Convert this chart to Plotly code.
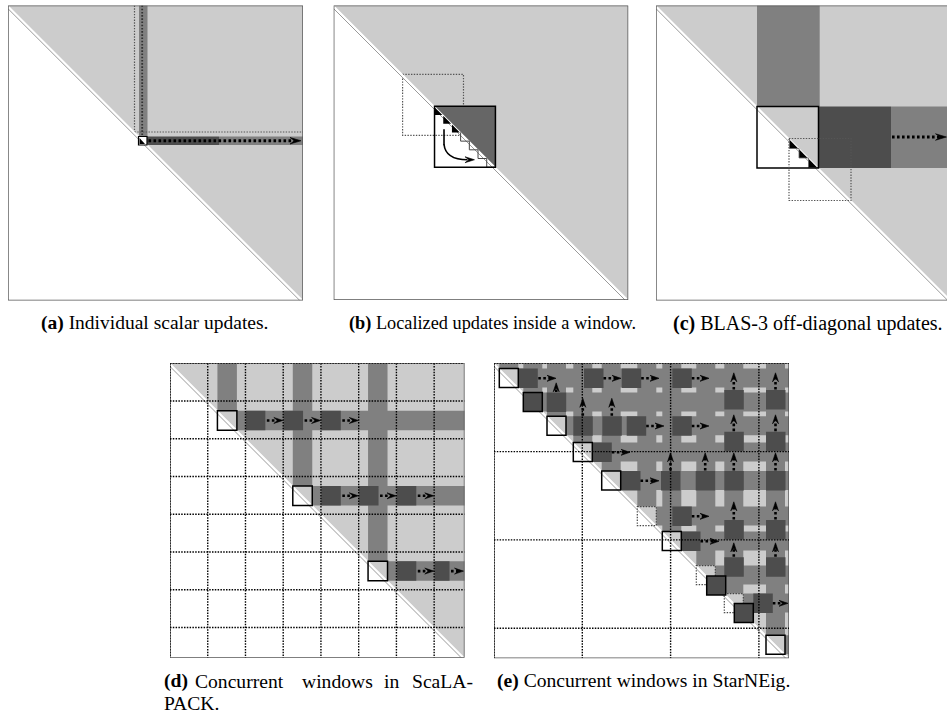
import plotly.graph_objects as go

W, H = 947, 715
N = 295.0  # drawing units of each matrix panel

LIGHT, MID, DARK, WDARK = '#cccccc', '#808080', '#4d4d4d', '#666666'
FONT = 'Liberation Serif'

# ---------------- data ----------------
# (a) individual scalar updates
a_k = 131.0
a_w = 8.5
a_done = 211.0
# (b) localized updates inside a window
b_win, b_size, b_prev = 101.0, 61.0, 69.0
b_steps, b_black = 7, 3
# (c) BLAS-3 off-diagonal updates
c_win, c_size, c_next = 101.0, 61.5, 133.0
c_dark_end = 235.0
c_black = [133.5, 143.0, 152.5]
c_step = 9.5
# (d) concurrent windows in ScaLAPACK
d_block = 37.8
d_win = [47.5, 123.0, 198.4]
d_size = 19.5
d_dark = [[76.0, 113.8, 151.6], [151.6, 189.4, 227.2], [227.2, 265.0]]
d_dark_w = [[19.5, 19.5, 19.5], [19.5, 19.5, 19.5], [19.5, 15.0]]
# (e) concurrent windows in StarNEig
e_block = 88.3
e_size = 19.0
e_win = [5.3, 29.3, 53.0, 79.3, 107.7, 143.3, 168.3, 202.3, 230.3, 272.0]
e_style = ['solid', 'dark', 'solid', 'solid', 'solid', 'dotted', 'solid', 'dotted', 'dotted', 'solid']
e_moved = [212.7, 240.3]
e_dark_x = [24.3, 90.0, 127.7, 178.3,
            52.7, 230.3, 272.0,
            79.3, 108.3, 132.7, 178.3, 230.3, 272.0,
            98.3,
            127.0, 167.0, 201.7, 230.3, 272.0,
            178.3, 230.3, 272.0,
            187.0,
            230.3, 272.0,
            259.3]
e_dark_y = [5.3, 5.3, 5.3, 5.3,
            29.3, 26.7, 26.7,
            53.0, 53.0, 53.0, 53.0, 68.4, 68.4,
            79.3,
            107.7, 107.7, 107.7, 107.7, 107.7,
            143.3, 156.7, 156.7,
            168.3,
            194.0, 194.0,
            230.3]
e_right = [(44.3, 15.0, 62.0), (109.5, 15.0, 127.0), (147.2, 15.0, 165.0), (197.8, 15.0, 215.0),
           (152.2, 62.7, 170.0), (197.8, 62.7, 215.0),
           (117.8, 89.0, 136.0),
           (146.5, 117.5, 165.0),
           (197.8, 153.0, 215.0),
           (206.5, 178.0, 225.0),
           (278.8, 240.0, 294.0)]
e_up = [(62.2, 29.3, 19.5), (239.8, 26.7, 9.5), (281.5, 26.7, 9.5),
        (88.8, 53.0, 35.0), (117.8, 53.0, 35.0), (239.8, 68.4, 51.5), (281.5, 68.4, 51.5),
        (176.5, 107.7, 89.5), (211.2, 107.7, 89.5), (239.8, 107.7, 89.5), (281.5, 107.7, 89.5),
        (239.8, 156.7, 138.5), (281.5, 156.7, 138.5),
        (239.8, 194.0, 179.5), (281.5, 194.0, 179.5)]

captions = [("<b>(a)</b> Individual scalar updates.", 154.7, 323.3, 19.5),
            ("<b>(b)</b> Localized updates inside a window.", 492.0, 323.3, 18.3),
            ("<b>(c)</b> BLAS-3 off-diagonal updates.", 807.5, 323.3, 20.0),
            ("<b>(e)</b> Concurrent windows in StarNEig.", 643.5, 681.0, 19.6)]
d_words = [("<b>(d)</b>", 161.7, 'left'), ("Concurrent", 192.5, 'left'), ("windows", 300.0, 'left'),
           ("in", 381.7, 'left'), ("ScaLA-", 475.0, 'right')]

# panel placement (page pixels): left, top, size, visible width
panels = [(8.0, 5.5, 295.0, 295.0), (333.7, 5.5, 294.5, 294.5), (656.0, 5.5, 295.0, 291.0),
          (170.0, 363.3, 294.5, 294.5), (494.0, 363.3, 295.0, 295.0)]

shapes = []
CLEAR = 'rgba(0,0,0,0)'


def ref(k):
    return ('x' if k == 1 else f'x{k}', 'y' if k == 1 else f'y{k}')


def rect(k, x0, y0, x1, y1, fill=None, line=None, lw=0.0, dash='solid'):
    xr, yr = ref(k)
    shapes.append(dict(type='rect', xref=xr, yref=yr, x0=x0, y0=y0, x1=x1, y1=y1, layer='above',
                       fillcolor=fill or CLEAR,
                       line=dict(color=line or CLEAR, width=lw if line else 0, dash=dash)))


def poly(k, pts, fill=None, line=None, lw=0.0, closed=True, dash='solid'):
    xr, yr = ref(k)
    p = 'M ' + ' L '.join(f'{x:.2f},{y:.2f}' for x, y in pts) + (' Z' if closed else '')
    shapes.append(dict(type='path', xref=xr, yref=yr, path=p, layer='above',
                       fillcolor=fill or CLEAR,
                       line=dict(color=line or CLEAR, width=lw if line else 0, dash=dash)))


def seg(k, x0, y0, x1, y1, color='black', lw=1.0, dash='solid'):
    xr, yr = ref(k)
    shapes.append(dict(type='line', xref=xr, yref=yr, x0=x0, y0=y0, x1=x1, y1=y1, layer='above',
                       line=dict(color=color, width=lw, dash=dash)))


def head(k, x, y, d, L=9.0, Wd=6.0):
    if d == 'right':
        pts = [(x, y), (x - L, y - Wd / 2), (x - 0.6 * L, y), (x - L, y + Wd / 2)]
    else:  # up (y axis reversed)
        pts = [(x, y), (x - Wd / 2, y + L), (x, y + 0.6 * L), (x + Wd / 2, y + L)]
    poly(k, pts, fill='black', line='black', lw=0.6)


def darrow(k, x0, y0, x1, y1, L=9.0, Wd=6.0, lw=2.6):
    if y0 == y1:
        seg(k, x0, y0, x1 - 0.6 * L, y1, 'black', lw, '2.6px,2.4px')
        head(k, x1, y1, 'right', L, Wd)
    else:
        seg(k, x0, y0, x1, y1 + 0.6 * L, 'black', lw, '2.6px,2.4px')
        head(k, x1, y1, 'up', L, Wd)


def base(k):
    poly(k, [(0, 0), (N + 10, 0), (N + 10, N + 10), (0, 0)], fill=LIGHT)


def diag(k):
    poly(k, [(0, 1.3), (N - 1.3, N)], line='white', lw=2.6, closed=False)
    poly(k, [(0, 3.2), (N - 3.2, N)], line='#9a9a9a', lw=1.0, closed=False)


def border(k):
    rect(k, 0, 0, N, N, line='#555555', lw=1.4)


def grid(k, step):
    v = 0.0
    while v < N - 1:
        seg(k, v, 0, v, N, 'black', 1.4, '1.5px,1.3px')
        seg(k, 0, v, N, v, 'black', 1.4, '1.5px,1.3px')
        v += step


# ---------------- (a) ----------------
k = 1
base(k)
rect(k, a_k, 0, a_k + a_w, a_k, fill=MID)
seg(k, a_k + 3.2, 0, a_k + 3.2, a_k, '#333333', 1.8, '1.6px,1.6px')
rect(k, a_k, a_k, a_done, a_k + a_w, fill=DARK)
rect(k, a_done, a_k, N + 5, a_k + a_w, fill=MID)
seg(k, a_k - 4.5, 0, a_k - 4.5, a_k - 4.5, '#555555', 1.2, '1.4px,1.4px')
seg(k, a_k - 4.5, a_k - 4.5, N, a_k - 4.5, '#555555', 1.2, '1.4px,1.4px')
diag(k)
rect(k, a_k - 0.5, a_k, a_k + a_w - 0.5, a_k + a_w, fill='white', line='black', lw=1.2)
poly(k, [(a_k + 0.5, a_k + 1.5), (a_k + 0.5, a_k + a_w - 1), (a_k + a_w - 2.5, a_k + a_w - 1)], fill='black')
darrow(k, a_k + a_w + 1, a_k + a_w / 2, N - 2, a_k + a_w / 2, L=11, Wd=6.5, lw=2.8)
border(k)

# ---------------- (b) ----------------
k = 2
base(k)
rect(k, b_prev, b_prev, b_prev + b_size, b_prev + b_size, line='#555555', lw=1.2, dash='1.4px,1.4px')
poly(k, [(b_win, b_win), (b_win + b_size, b_win), (b_win + b_size, b_win + b_size)], fill=WDARK)
diag(k)
s = b_size / b_steps
for i in range(b_steps):
    x0 = b_win + i * s
    if i < b_black:
        poly(k, [(x0, x0 + 0.8), (x0, x0 + s), (x0 + s - 0.8, x0 + s)], fill='black')
    else:
        poly(k, [(x0, x0), (x0, x0 + s), (x0 + s, x0 + s)], line='#444444', lw=1.0, closed=False)
rect(k, b_win, b_win, b_win + b_size, b_win + b_size, line='black', lw=1.5)
poly(k, [(110.5, 124.0), (110.5, 140.0)], line='black', lw=1.6, closed=False)
xr, yr = ref(k)
shapes.append(dict(type='path', xref=xr, yref=yr, layer='above', path='M 110.5,139 Q 112,154.5 134,154.5',
                   fillcolor=CLEAR, line=dict(color='black', width=1.6)))
head(k, 141.0, 154.5, 'right', L=9.5, Wd=6.0)
border(k)

# ---------------- (c) ----------------
k = 3
base(k)
rect(k, c_win, 0, c_win + 62.7, c_win, fill=MID)
rect(k, c_win + c_size, c_win, c_dark_end, c_win + c_size, fill=DARK)
rect(k, c_dark_end, c_win, N + 5, c_win + c_size, fill=MID)
diag(k)
for x0 in c_black:
    poly(k, [(x0, x0 + 0.8), (x0, x0 + c_step), (x0 + c_step - 0.8, x0 + c_step)], fill='black')
    poly(k, [(x0, x0), (x0, x0 + c_step), (x0 + c_step, x0 + c_step)], line='#666666', lw=0.8, closed=False)
rect(k, c_win, c_win, c_win + c_size, c_win + c_size, line='black', lw=1.5)
rect(k, c_next, c_next, c_next + 62.0, c_next + 62.0, line='#555555', lw=1.2, dash='1.4px,1.4px')
darrow(k, c_dark_end + 1, c_win + 30.5, 290.5, c_win + 30.5, L=11, Wd=6.5, lw=2.8)
border(k)

# ---------------- (d) ----------------
k = 4
base(k)
for w in d_win:
    rect(k, w, 0, w + d_size, w, fill=MID)
    rect(k, w + d_size, w, N + 5, w + d_size, fill=MID)
for w, xs, ws in zip(d_win, d_dark, d_dark_w):
    for x0, bw in zip(xs, ws):
        rect(k, x0, w, x0 + bw, w + d_size, fill=DARK)
diag(k)
border(k)
grid(k, d_block)
for w in d_win:
    rect(k, w, w, w + d_size, w + d_size, line='black', lw=1.5)
for w, xs, ws in zip(d_win, d_dark, d_dark_w):
    for x0, bw in zip(xs, ws):
        tip = min(x0 + bw + 17.5, N - 1.0)
        darrow(k, x0 + bw + 1.5, w + d_size / 2, tip, w + d_size / 2, L=9, Wd=6, lw=2.6)

# ---------------- (e) ----------------
k = 5
base(k)
for w, st in zip(e_win, e_style):
    rect(k, w, 0, w + e_size, w, fill=MID)
    rect(k, w + e_size, w, N + 5, w + e_size, fill=MID)
for x0, y0 in zip(e_dark_x, e_dark_y):
    rect(k, x0, y0, x0 + 19.5, y0 + 19.5, fill=DARK)
diag(k)
border(k)
grid(k, e_block)
for w, st in zip(e_win, e_style):
    if st == 'solid':
        rect(k, w, w, w + e_size, w + e_size, line='black', lw=1.5)
    elif st == 'dotted':
        rect(k, w, w, w + e_size, w + e_size, line='#444444', lw=1.2, dash='1.4px,1.4px')
    else:
        rect(k, w, w, w + e_size, w + e_size, fill=DARK, line='black', lw=1.5)
for w in e_moved:
    rect(k, w, w, w + e_size, w + e_size, fill=DARK, line='black', lw=1.5)
for x0, y, x1 in e_right:
    darrow(k, x0, y, x1, y, L=9, Wd=6, lw=2.6)
for x, y0, y1 in e_up:
    darrow(k, x, y0 - 0.5, x, y1, L=9, Wd=6, lw=2.6)

# ---------------- figure ----------------
fig = go.Figure()
layout = dict(width=W, height=H, margin=dict(l=0, r=0, t=0, b=0), paper_bgcolor='white',
              plot_bgcolor='rgba(0,0,0,0)', showlegend=False, shapes=shapes)
for i, (left, top, size, vis) in enumerate(panels, start=1):
    sx = '' if i == 1 else str(i)
    layout[f'xaxis{sx}'] = dict(domain=[left / W, min(1.0, (left + vis) / W)], range=[0, vis * N / size],
                                visible=False, fixedrange=True, anchor=f'y{sx}')
    layout[f'yaxis{sx}'] = dict(domain=[1 - (top + size) / H, 1 - top / H], range=[N, 0],
                                visible=False, fixedrange=True, anchor=f'x{sx}')
    fig.add_trace(go.Scatter(x=[None], y=[None], xaxis=f'x{sx}', yaxis=f'y{sx}',
                             hoverinfo='skip', showlegend=False))

ann = []
for text, x, y, fs in captions:
    ann.append(dict(text=text, x=x / W, y=1 - y / H, xref='paper', yref='paper', showarrow=False,
                    xanchor='center', yanchor='middle', font=dict(family=FONT, size=fs, color='black')))
for text, x, anc in d_words:
    ann.append(dict(text=text, x=x / W, y=1 - 681.0 / H, xref='paper', yref='paper', showarrow=False,
                    xanchor=anc, yanchor='middle', font=dict(family=FONT, size=19.6, color='black')))
ann.append(dict(text="PACK.", x=161.7 / W, y=1 - 703.0 / H, xref='paper', yref='paper', showarrow=False,
                xanchor='left', yanchor='middle', font=dict(family=FONT, size=19.6, color='black')))
layout['annotations'] = ann
fig.update_layout(**layout)
fig.write_html("out.html", config={'displayModeBar': False},
               post_script="document.body.style.margin='0';document.body.style.padding='0';")
